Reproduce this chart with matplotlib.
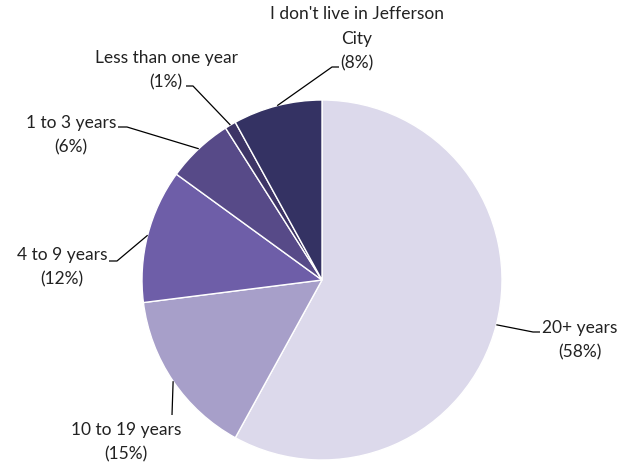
import matplotlib.pyplot as plt
import numpy as np

# Years lived in Jefferson City
labels = ['20+ years', '10 to 19 years', '4 to 9 years', '1 to 3 years',
          'Less than one year', "I don't live in Jefferson\nCity"]
shares = [58, 15, 12, 6, 1, 8]
colors = ['#DCD9EB', '#A79FC9', '#6E5EA8', '#574A88', '#3D3466', '#343263']

# label placement (pixel coords, y from top): text centre, leader elbow, end of the short tail
text_pos = [(580, 340), (126, 442), (62, 267), (71, 135), (166, 70), (357, 39)]
elbow_pos = [(533, 333), (172, 416), (117, 262), (127, 128), (193, 87), (332, 68)]
tail_x = [540, None, 109, 118, 186, 339]

W, H = 621, 464
plt.rcParams['font.family'] = ['Lato', 'DejaVu Sans']

fig = plt.figure(figsize=(W / 100, H / 100), dpi=100)
ax = fig.add_axes([0, 0, 1, 1])

cx, cy, r = 322, H - 281, 180
wedges, _ = ax.pie(shares, colors=colors, startangle=90, counterclock=False,
                   center=(cx, cy), radius=r,
                   wedgeprops=dict(edgecolor='white', linewidth=1))
ax.set_xlim(0, W)
ax.set_ylim(0, H)
ax.set_aspect('equal')
ax.axis('off')

for w, lab, pct, tp, ep, tx in zip(wedges, labels, shares, text_pos, elbow_pos, tail_x):
    mid = np.deg2rad((w.theta1 + w.theta2) / 2)
    ex, ey = cx + r * np.cos(mid), cy + r * np.sin(mid)
    bx, by = ep[0], H - ep[1]
    xs, ys = [ex, bx], [ey, by]
    if tx is not None:
        xs.append(tx)
        ys.append(by)
    ax.plot(xs, ys, color='black', lw=0.9, solid_capstyle='butt')
    ax.text(tp[0], H - tp[1], f'{lab}\n({pct}%)', ha='center', va='center',
            fontsize=12.5, color='#222222', linespacing=1.65)

fig.savefig('out.png', dpi=100)
